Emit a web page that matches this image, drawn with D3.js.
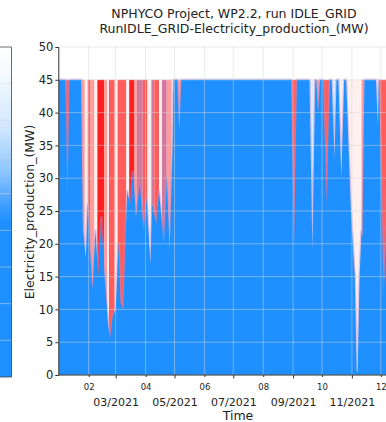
<!DOCTYPE html>
<html><head><meta charset="utf-8">
<script src="https://cdn.jsdelivr.net/npm/d3@7"></script>
<style>body{margin:0;background:#fff}svg{display:block;font-family:"DejaVu Sans",sans-serif}</style>
</head><body>
<svg id="c" width="386" height="422"></svg>
<script>
// ---- data ----
const titleLines = ["NPHYCO Project, WP2.2, run IDLE_GRID", "RunIDLE_GRID-Electricity_production_(MW)"];
const yLabel = "Electricity_production_(MW)";
const xLabel = "Time";
const prodDates = ["2021-01-01","2021-01-08","2021-01-10","2021-01-12","2021-01-24","2021-01-26","2021-01-29","2021-01-31","2021-02-02","2021-02-05","2021-02-08","2021-02-11","2021-02-14","2021-02-17","2021-02-21","2021-02-23","2021-02-26","2021-03-01","2021-03-04","2021-03-06","2021-03-09","2021-03-11","2021-03-13","2021-03-16","2021-03-19","2021-03-22","2021-03-26","2021-03-30","2021-04-02","2021-04-06","2021-04-08","2021-04-12","2021-04-15","2021-04-20","2021-04-23","2021-04-26","2021-04-29","2021-04-30","2021-05-04","2021-05-06","2021-05-08","2021-08-30","2021-09-02","2021-09-05","2021-09-18","2021-09-21","2021-09-24","2021-09-25","2021-09-27","2021-09-29","2021-10-02","2021-10-06","2021-10-09","2021-10-11","2021-10-14","2021-10-16","2021-10-18","2021-10-21","2021-10-24","2021-10-26","2021-10-31","2021-11-04","2021-11-06","2021-11-07","2021-11-09","2021-11-11","2021-11-12","2021-11-14","2021-11-26","2021-11-28","2021-11-29","2021-12-02","2021-12-04","2021-12-06","2021-12-10","2021-12-31"];
const production = [45,45,27,45,45,22,18,26,20,13,22,15,24,16,8,5.5,9,10,20,11,10,20,28,26,31,24,29,22,27,17,26,23,28,20,30,19,35,45,45,37,45,45,20,45,45,19,45,45,40,45,45,26,45,45,33,45,45,30,45,45,25,15,0.5,0.5,15,22,21,45,45,38,45,25,12,20,45,45];
const capacity = 45;
const bandStart = ["2021-01-08","2021-01-24","2021-01-28","2021-01-31","2021-02-03","2021-02-07","2021-02-10","2021-02-17","2021-02-20","2021-02-22","2021-02-28","2021-03-03","2021-03-12","2021-03-15","2021-03-20","2021-03-23","2021-03-29","2021-04-03","2021-04-07","2021-04-10","2021-04-15","2021-04-18","2021-04-23","2021-05-04","2021-08-30","2021-09-18","2021-09-25","2021-10-02","2021-10-11","2021-10-18","2021-10-26","2021-11-11","2021-11-26","2021-11-29"];
const bandEnd   = ["2021-01-13","2021-01-28","2021-01-31","2021-02-03","2021-02-07","2021-02-10","2021-02-17","2021-02-20","2021-02-22","2021-02-28","2021-03-03","2021-03-12","2021-03-15","2021-03-20","2021-03-23","2021-03-29","2021-04-03","2021-04-07","2021-04-10","2021-04-15","2021-04-18","2021-04-23","2021-04-28","2021-05-08","2021-09-05","2021-09-24","2021-09-29","2021-10-09","2021-10-16","2021-10-24","2021-11-11","2021-11-14","2021-11-29","2021-12-10"];
const bandShade = ["r","p","w","r","p","w","R","p","w","r","w","r","w","R","p","v","r","w","v","r","w","v","p","p","r","b","p","r","b","w","w","p","w","r"];
const yTicks = [0,5,10,15,20,25,30,35,40,45,50];
const minorMonths = ["2021-02-01","2021-04-01","2021-06-01","2021-08-01","2021-10-01","2021-12-01"];
const majorMonths = ["2021-03-01","2021-05-01","2021-07-01","2021-09-01","2021-11-01"];

// ---- drawing ----
const parse = d3.timeParse("%Y-%m-%d");
const svg = d3.select("#c");
const W = 386, H = 422;
const BLUE = "#1e90ff";

const x = d3.scaleTime().domain([parse("2021-01-01"), parse("2022-01-01")]).range([58.8, 410.7]);
const y = d3.scaleLinear().domain([0, 50]).range([375, 47]);

// left partial panel
const ly = d3.scaleLinear().domain([0, 45]).range([377, 47]);
const defs = svg.append("defs");
const lg = defs.append("linearGradient").attr("id","lg").attr("x1",0).attr("y1",0).attr("x2",0).attr("y2",1);
[[0,"#ffffff"],[0.07,"#f6fbff"],[0.25,"#cfe6ff"],[0.38,"#8cc5ff"],[0.48,"#3f9dff"],[0.53,BLUE],[1,BLUE]]
  .forEach(s => lg.append("stop").attr("offset", s[0]).attr("stop-color", s[1]));
svg.append("rect").attr("x", -2).attr("y", ly(45)).attr("width", 13.5).attr("height", ly(0) - ly(45)).attr("fill", "url(#lg)");
svg.append("g").selectAll("line").data(d3.range(5, 45, 5)).join("line")
  .attr("x1", 0).attr("x2", 11).attr("y1", d => ly(d)).attr("y2", d => ly(d))
  .attr("stroke", "#d8d8d8").attr("stroke-opacity", 0.5);
svg.append("path").attr("d", `M0,${ly(45)}H11.5V${ly(0)}H0`).attr("fill","none").attr("stroke","#444").attr("stroke-width",0.8);

// main plot
const clip = defs.append("clipPath").attr("id","pc");
clip.append("rect").attr("x", x.range()[0]).attr("y", y(50)).attr("width", x.range()[1]-x.range()[0]).attr("height", y(0)-y(50));
const plot = svg.append("g").attr("clip-path","url(#pc)");

const shadeColor = d3.scaleOrdinal().domain(["R","r","p","w","b","v"])
  .range(["#ff1f1f","#ff5c5c","#ff9c9c","#fff0f0","#d9edff","#d2789f"]);

plot.append("g").selectAll("rect").data(bandStart.map((s,i)=>({s:parse(s), e:parse(bandEnd[i]), c:bandShade[i]}))).join("rect")
  .attr("x", d => x(d.s)).attr("width", d => x(d.e) - x(d.s))
  .attr("y", y(capacity)).attr("height", y(0) - y(capacity))
  .attr("fill", d => shadeColor(d.c));

const pts = prodDates.map((d,i) => ({t: parse(d), v: production[i]}));
const area = d3.area().x(d => x(d.t)).y0(y(0)).y1(d => y(d.v)).curve(d3.curveLinear);
// soft transition halo, then the solid production area
plot.append("path").datum(pts).attr("d", area).attr("fill", "none")
  .attr("stroke", "#b98fd0").attr("stroke-opacity", 0.45).attr("stroke-width", 2.5).attr("stroke-linejoin","round");
plot.append("path").datum(pts).attr("d", area).attr("fill", BLUE);

// grid on top
const grid = svg.append("g").attr("stroke", "#d6d6d6").attr("stroke-opacity", 0.55).attr("stroke-width", 0.9);
grid.selectAll(".gh").data(yTicks).join("line")
  .attr("x1", x.range()[0]).attr("x2", W).attr("y1", d => y(d)).attr("y2", d => y(d));
grid.selectAll(".gv").data(d3.timeMonths(parse("2021-02-01"), parse("2022-01-01"))).join("line")
  .attr("x1", d => x(d)).attr("x2", d => x(d)).attr("y1", y(50)).attr("y2", y(0));

// spines
svg.append("line").attr("x1", x.range()[0]).attr("x2", x.range()[0]).attr("y1", y(50)).attr("y2", y(0)+0.5).attr("stroke","#333").attr("stroke-width",1);
svg.append("line").attr("x1", x.range()[0]).attr("x2", W).attr("y1", y(0)).attr("y2", y(0)).attr("stroke","#333").attr("stroke-width",1);

// y axis
const yAxis = svg.append("g").attr("transform", `translate(${x.range()[0]},0)`)
  .call(d3.axisLeft(y).tickValues(yTicks).tickSize(3.5).tickPadding(2));
yAxis.select(".domain").remove();
yAxis.selectAll("text").attr("font-size", 11.5).attr("fill", "#222").attr("font-family", "DejaVu Sans");
yAxis.selectAll("line").attr("stroke", "#333");

// x axis minor (even months)
const xMinor = svg.append("g").attr("transform", `translate(0,${y(0)})`)
  .call(d3.axisBottom(x).tickValues(minorMonths.map(parse)).tickFormat(d3.timeFormat("%m")).tickSize(2).tickPadding(7));
xMinor.select(".domain").remove();
xMinor.selectAll("text").attr("font-size", 8.5).attr("fill", "#222").attr("font-family", "DejaVu Sans");
xMinor.selectAll("line").attr("stroke", "#333");
const xMajor = svg.append("g").attr("transform", `translate(0,${y(0)})`)
  .call(d3.axisBottom(x).tickValues(majorMonths.map(parse)).tickFormat(d3.timeFormat("%m/%Y")).tickSize(3.5).tickPadding(19.5));
xMajor.select(".domain").remove();
xMajor.selectAll("text").attr("font-size", 11).attr("fill", "#222").attr("font-family", "DejaVu Sans");
xMajor.selectAll("line").attr("stroke", "#333");

// labels
svg.append("text").attr("x", 238).attr("y", 419.5).attr("text-anchor","middle").attr("font-size", 12.5).attr("fill","#222").text(xLabel);
svg.append("text").attr("transform", "translate(34,212) rotate(-90)").attr("text-anchor","middle").attr("font-size", 12.5).attr("fill","#222").text(yLabel);
svg.append("g").selectAll("text").data(titleLines).join("text")
  .attr("x", 234).attr("y", (d,i) => 18 + i*15).attr("text-anchor","middle").attr("font-size", 12.5).attr("fill","#222").text(d => d);
</script>
</body></html>
